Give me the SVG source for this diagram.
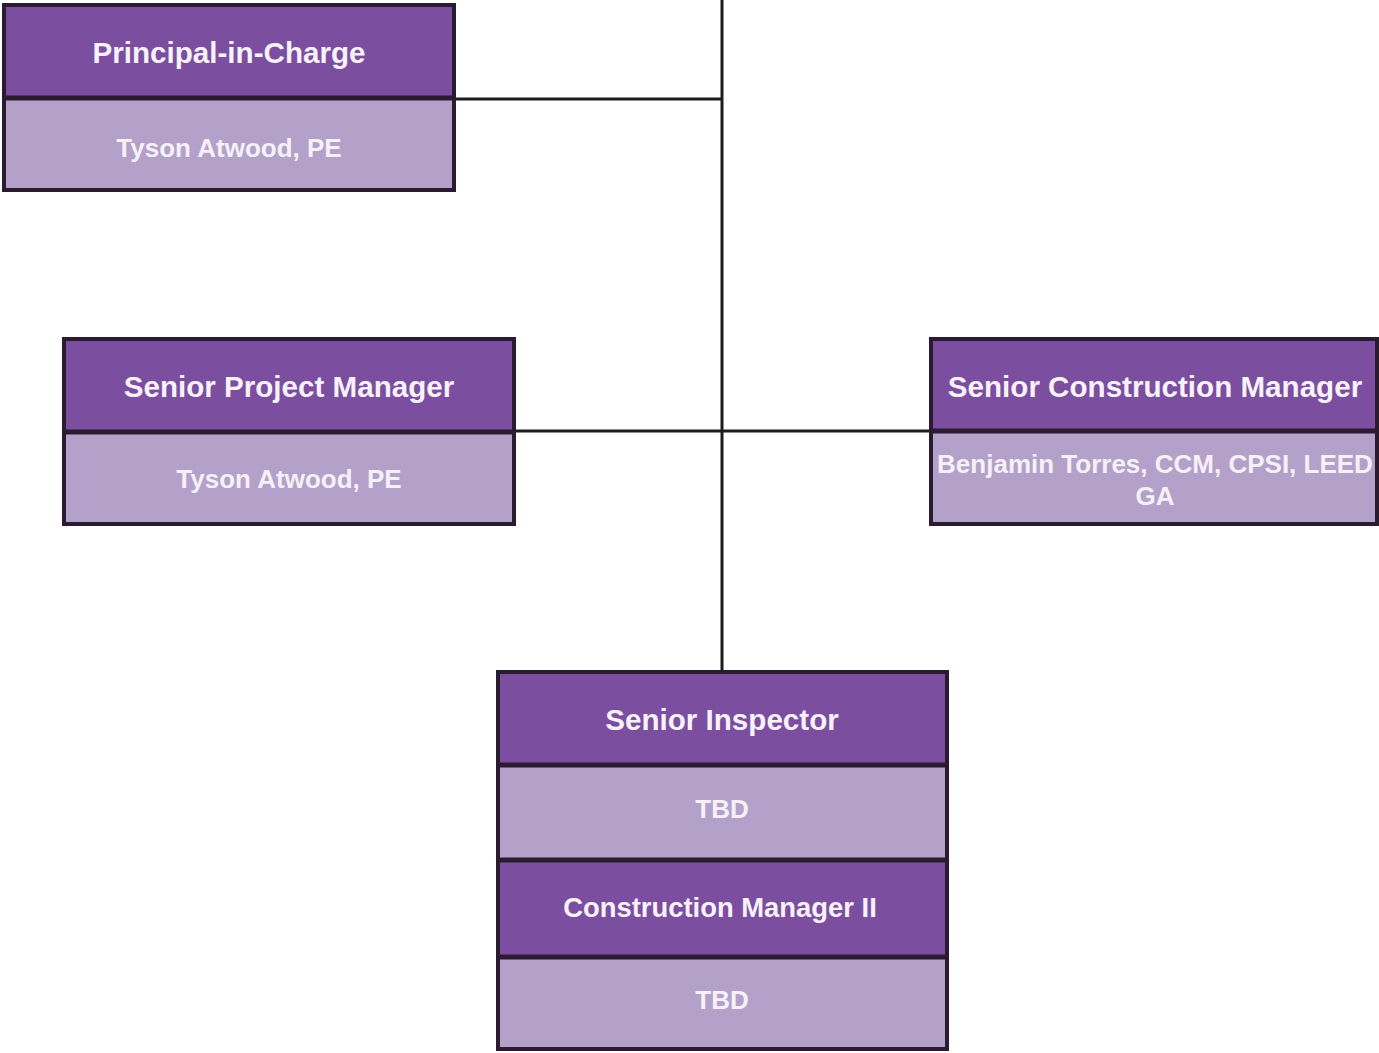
<svg xmlns="http://www.w3.org/2000/svg" width="1379" height="1053" viewBox="0 0 1379 1053">
  <style>
    .hdr { fill: #7b4ea0; }
    .body { fill: #b3a1c9; }
    .frame { fill: none; stroke: #2a1b30; stroke-width: 4; }
    .sep { stroke: #2a1b30; stroke-width: 5; }
    .link { fill: none; stroke: #1c1c1c; stroke-width: 3; }
    text { font-family: "Liberation Sans", Arial, sans-serif; font-weight: bold; text-anchor: middle; }
    .th { font-size: 29.6px; fill: #f7f2fa; }
    .th-sm { font-size: 27.4px; fill: #f7f2fa; }
    .tb { font-size: 26px; fill: #f6f0f8; }
  </style>
  <rect width="1379" height="1053" fill="#ffffff"/>

  <!-- reporting lines -->
  <g id="connectors">
    <path class="link" d="M722 0 V671"/>
    <path class="link" d="M454 99 H722"/>
    <path class="link" d="M514 431 H931"/>
  </g>

  <g id="principal-in-charge">
    <rect class="hdr" x="4" y="5" width="450" height="93"/>
    <rect class="body" x="4" y="98" width="450" height="92"/>
    <line class="sep" x1="4" y1="98" x2="454" y2="98"/>
    <rect class="frame" x="4" y="5" width="450" height="185"/>
    <text class="th" x="229" y="63">Principal-in-Charge</text>
    <text class="tb" x="229" y="157">Tyson Atwood, PE</text>
  </g>

  <g id="senior-project-manager">
    <rect class="hdr" x="64" y="339" width="450" height="93"/>
    <rect class="body" x="64" y="432" width="450" height="92"/>
    <line class="sep" x1="64" y1="432" x2="514" y2="432"/>
    <rect class="frame" x="64" y="339" width="450" height="185"/>
    <text class="th" x="289" y="397">Senior Project Manager</text>
    <text class="tb" x="289" y="488">Tyson Atwood, PE</text>
  </g>

  <g id="senior-construction-manager">
    <rect class="hdr" x="931" y="339" width="446" height="92"/>
    <rect class="body" x="931" y="431" width="446" height="93"/>
    <line class="sep" x1="931" y1="431" x2="1377" y2="431"/>
    <rect class="frame" x="931" y="339" width="446" height="185"/>
    <text class="th" x="1155" y="397">Senior Construction Manager</text>
    <text class="tb" x="1155" y="473">Benjamin Torres, CCM, CPSI, LEED</text>
    <text class="tb" x="1155" y="505">GA</text>
  </g>

  <g id="senior-inspector">
    <rect class="hdr" x="498" y="672" width="449" height="93"/>
    <rect class="body" x="498" y="765" width="449" height="95"/>
    <line class="sep" x1="498" y1="765" x2="947" y2="765"/>
    <text class="th" x="722" y="730">Senior Inspector</text>
    <text class="tb" x="722" y="818">TBD</text>
  </g>

  <g id="construction-manager-ii">
    <rect class="hdr" x="498" y="860" width="449" height="97"/>
    <rect class="body" x="498" y="957" width="449" height="92"/>
    <line class="sep" x1="498" y1="860" x2="947" y2="860"/>
    <line class="sep" x1="498" y1="957" x2="947" y2="957"/>
    <text class="th-sm" x="720" y="917">Construction Manager II</text>
    <text class="tb" x="722" y="1009">TBD</text>
  </g>

  <rect id="staff-stack-frame" class="frame" x="498" y="672" width="449" height="377"/>
</svg>
